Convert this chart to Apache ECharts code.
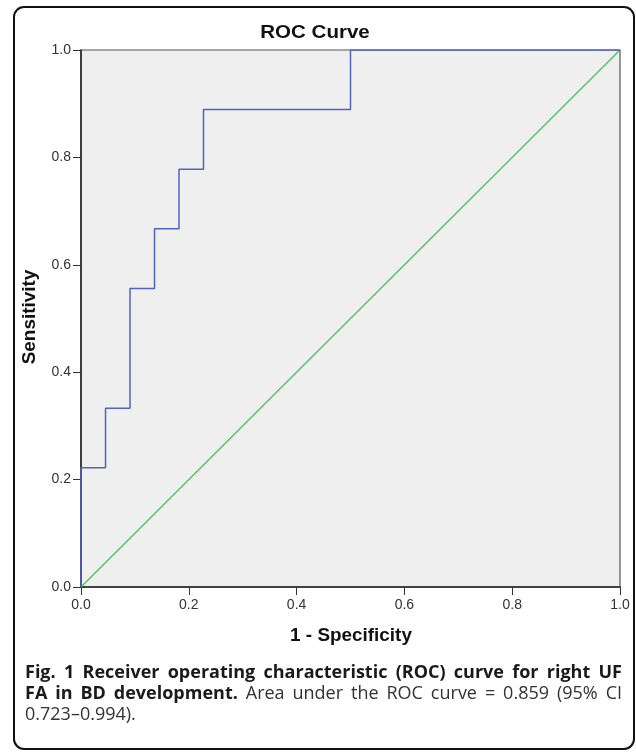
<!DOCTYPE html>
<html>
<head>
<meta charset="utf-8">
<script src="https://cdn.jsdelivr.net/npm/echarts@6/dist/echarts.min.js"></script>
<style>
html,body{margin:0;padding:0;background:#fff;}
#chart{width:636px;height:753px;}
</style>
</head>
<body>
<div id="chart"></div>
<script>
// ROC curve points (1 - specificity, sensitivity)
const fpr = [0, 0, 0.0455, 0.0455, 0.0909, 0.0909, 0.1364, 0.1364, 0.1818, 0.1818, 0.2273, 0.2273, 0.5, 0.5, 1.0];
const tpr = [0, 0.222, 0.222, 0.333, 0.333, 0.556, 0.556, 0.667, 0.667, 0.778, 0.778, 0.889, 0.889, 1.0, 1.0];
// Reference (chance) line
const refX = [0, 1];
const refY = [0, 1];
const chartTitle = 'ROC Curve';
const xName = '1 - Specificity';
const yName = 'Sensitivity';
const captionLines = [
  [{t: 'Fig. 1 Receiver operating characteristic (ROC) curve for right UF', b: true}],
  [{t: 'FA in BD development.', b: true}, {t: 'Area under the ROC curve = 0.859 (95% CI', b: false}],
  [{t: '0.723–0.994).', b: false}]
];

const chart = echarts.init(document.getElementById('chart'));

const rocData = fpr.map((x, i) => [x, tpr[i]]);
const refData = refX.map((x, i) => [x, refY[i]]);

// caption layout (justified)
const cv = document.createElement('canvas').getContext('2d');
const capFamily = '"Open Sans", "Noto Sans", sans-serif';
const capLeft = 25, capRight = 622, capTop = 673, capLH = 21;
// fit font size so that the first (bold) line fills the width with normal spacing
cv.font = '700 16px ' + capFamily;
const natural = cv.measureText(captionLines[0][0].t).width;
const capSize = Math.min(18, 16 * (capRight - capLeft) / natural * 0.985);
const boldFont = '700 ' + capSize.toFixed(2) + 'px ' + capFamily;
const regFont = '400 ' + capSize.toFixed(2) + 'px ' + capFamily;
const capEls = [];
captionLines.forEach((segs, li) => {
  const words = [];
  segs.forEach(s => s.t.split(' ').forEach(w => words.push({w, f: s.b ? boldFont : regFont, c: s.b ? '#1a1a1a' : '#333'})));
  let total = 0;
  words.forEach(o => { cv.font = o.f; o.width = cv.measureText(o.w).width; total += o.width; });
  cv.font = regFont;
  const spaceW = cv.measureText(' ').width;
  const isLast = li === captionLines.length - 1;
  const gap = isLast || words.length < 2 ? spaceW : (capRight - capLeft - total) / (words.length - 1);
  let x = capLeft;
  words.forEach(o => {
    capEls.push({type: 'text', x: x, y: capTop + li * capLH, silent: true,
      style: {text: o.w, font: o.f, fill: o.c, align: 'left', verticalAlign: 'middle'}});
    x += o.width + gap;
  });
});

const axisCommon = {
  type: 'value', min: 0, max: 1, interval: 0.2,
  axisLine: {show: true, lineStyle: {color: '#222', width: 1.5}},
  axisTick: {show: true, inside: false, length: 8, lineStyle: {color: '#333', width: 1}},
  axisLabel: {color: '#333', fontSize: 14, fontFamily: '"Liberation Sans", Arial, sans-serif',
    formatter: v => v.toFixed(1)},
  splitLine: {show: false}
};

chart.setOption({
  animation: false,
  backgroundColor: '#fff',
  grid: {left: 81, right: 16, top: 50, bottom: 166, show: true,
    backgroundColor: '#efefef', borderColor: '#555', borderWidth: 1.2},
  xAxis: Object.assign({}, axisCommon, {axisLabel: Object.assign({}, axisCommon.axisLabel, {margin: 11})}),
  yAxis: Object.assign({}, axisCommon, {axisLabel: Object.assign({}, axisCommon.axisLabel, {margin: 10})}),
  series: [
    {type: 'line', data: refData, symbol: 'none', lineStyle: {color: '#55c464', width: 1.5}, z: 3},
    {type: 'line', data: rocData, symbol: 'none', lineStyle: {color: '#5064bf', width: 1.5}, z: 4}
  ],
  graphic: [
    {type: 'rect', shape: {x: 14, y: 7, width: 620, height: 742, r: 10}, silent: true,
      style: {fill: 'none', stroke: '#111', lineWidth: 2}},
    {type: 'text', x: 315, y: 33, scaleX: 1.08, silent: true,
      style: {text: chartTitle, font: 'bold 19px "Liberation Sans", Arial, sans-serif', fill: '#111', align: 'center', verticalAlign: 'middle'}},
    {type: 'text', x: 351, y: 636, scaleX: 1.08, silent: true,
      style: {text: xName, font: 'bold 17.5px "Liberation Sans", Arial, sans-serif', fill: '#111', align: 'center', verticalAlign: 'middle'}},
    {type: 'text', x: 30, y: 317, rotation: Math.PI / 2, scaleX: 1.08, silent: true,
      style: {text: yName, font: 'bold 17.5px "Liberation Sans", Arial, sans-serif', fill: '#111', align: 'center', verticalAlign: 'middle'}}
  ].concat(capEls)
});
</script>
</body>
</html>
